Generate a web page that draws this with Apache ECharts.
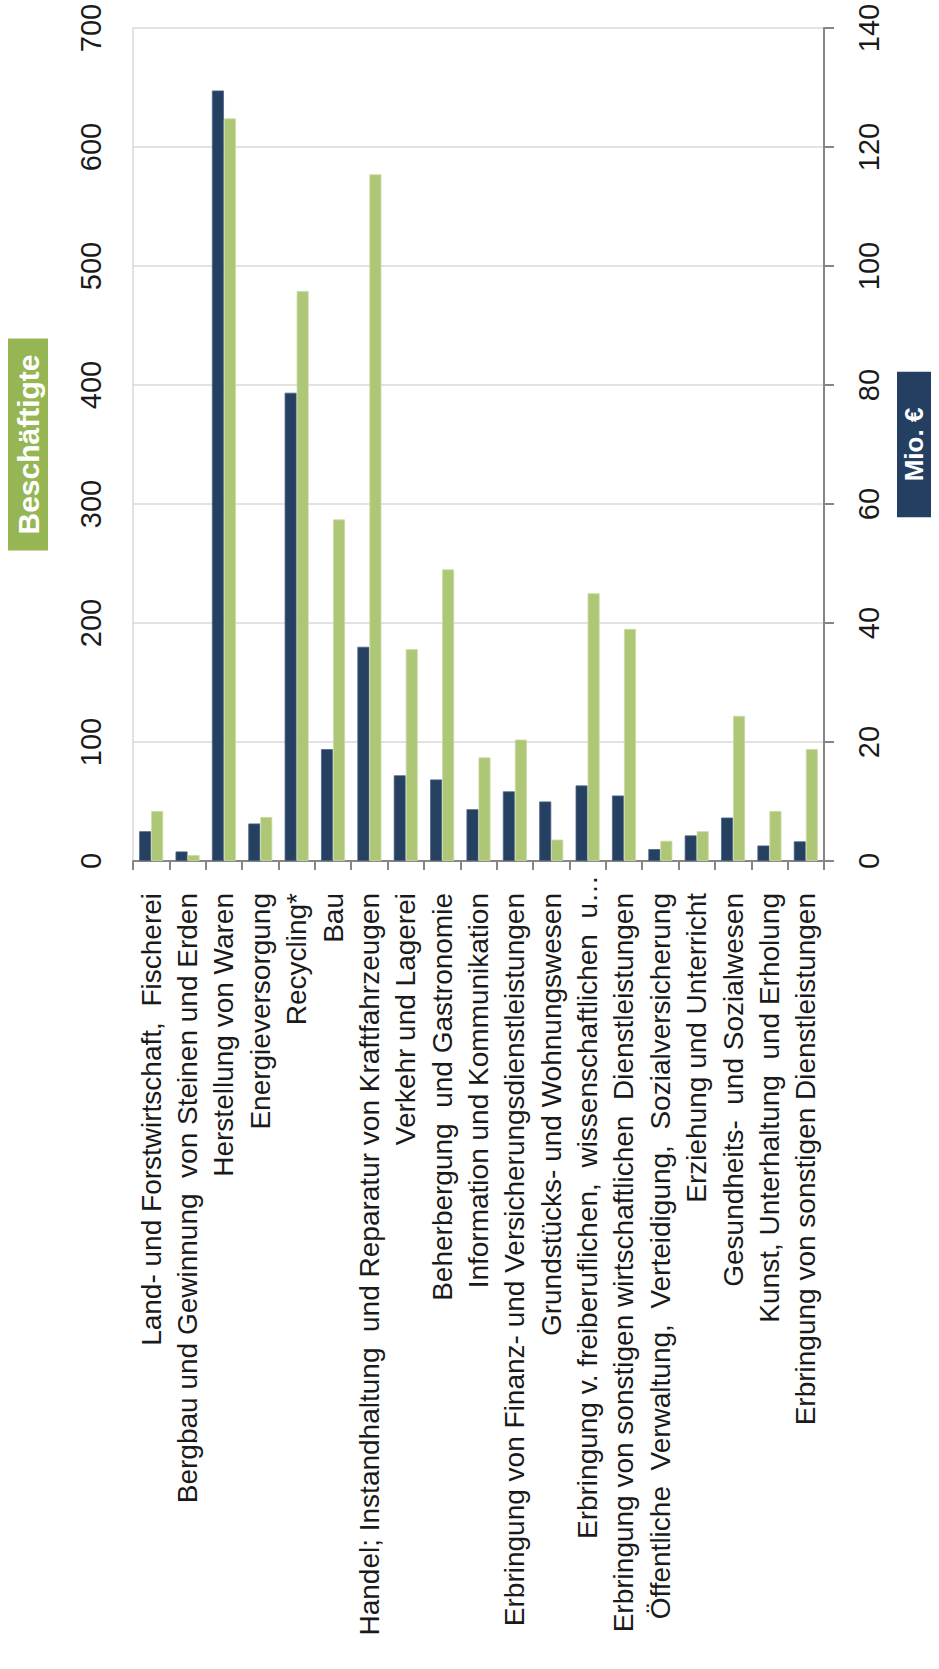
<!DOCTYPE html>
<html>
<head>
<meta charset="utf-8">
<title>Beschäftigte und Umsatz nach Wirtschaftszweigen</title>
<script src="https://cdn.jsdelivr.net/npm/echarts@6/dist/echarts.min.js"></script>
<style>
  html, body { margin: 0; padding: 0; background: #ffffff; }
  #chart { width: 939px; height: 1669px; }
</style>
</head>
<body>
<div id="chart"></div>
<script>
// Wirtschaftszweige (Reihenfolge von links nach rechts)
const categories = [
  'Land- und Forstwirtschaft,  Fischerei',
  'Bergbau und Gewinnung  von Steinen und Erden',
  'Herstellung von Waren',
  'Energieversorgung',
  'Recycling*',
  'Bau',
  'Handel; Instandhaltung  und Reparatur von Kraftfahrzeugen',
  'Verkehr und Lagerei',
  'Beherbergung  und Gastronomie',
  'Information und Kommunikation',
  'Erbringung von Finanz- und Versicherungsdienstleistungen',
  'Grundstücks- und Wohnungswesen',
  'Erbringung v. freiberuflichen,  wissenschaftlichen  u…',
  'Erbringung von sonstigen wirtschaftlichen  Dienstleistungen',
  'Öffentliche  Verwaltung,  Verteidigung,  Sozialversicherung',
  'Erziehung und Unterricht',
  'Gesundheits-  und Sozialwesen',
  'Kunst, Unterhaltung  und Erholung',
  'Erbringung von sonstigen Dienstleistungen'
];

// Umsatz in Mio. € (rechte Achse)
const umsatzMio = [5.0, 1.6, 129.5, 6.3, 78.7, 18.8, 36.0, 14.4, 13.7, 8.7,
                   11.7, 10.0, 12.7, 11.0, 2.0, 4.3, 7.3, 2.6, 3.3];

// Beschäftigte (linke Achse)
const beschaeftigte = [42, 5, 624, 37, 479, 287, 577, 178, 245, 87,
                       102, 18, 225, 195, 17, 25, 122, 42, 94];

// Achsenbereiche
const leftAxis = { min: 0, max: 700, interval: 100 };
const rightAxis = { min: 0, max: 140, interval: 20 };

const NAVY = '#264061';
const GREEN = '#aec776';
const GRID = '#d9d9d9';
const AXIS = '#868686';
const LABEL_FONT = "'Liberation Sans', Arial, sans-serif";
const NUM_FONT = "'Liberation Sans Narrow', 'Liberation Sans', Arial, sans-serif";

const chart = echarts.init(document.getElementById('chart'), null, { renderer: 'svg' });

chart.setOption({
  backgroundColor: '#ffffff',
  animation: false,
  grid: { left: 133, right: 111, top: 28, bottom: 808, containLabel: false },
  xAxis: {
    type: 'category',
    data: categories,
    boundaryGap: true,
    axisLine: { show: true, lineStyle: { color: AXIS, width: 2 } },
    axisTick: { show: true, interval: 0, length: 9, lineStyle: { color: AXIS, width: 2 } },
    axisLabel: {
      interval: 0,
      rotate: 90,
      margin: 14,
      color: '#1a1a1a',
      fontSize: 28,
      fontFamily: LABEL_FONT,
      formatter: function (v) {
        // abgekürzte Bezeichnung steht näher an der Achse
        return v.endsWith('…') ? '{t|' + v + '}' : '{p|' + v + '}';
      },
      rich: {
        p: { fontSize: 28, fontFamily: LABEL_FONT, color: '#1a1a1a', padding: [0, 18, 0, 0] },
        t: { fontSize: 28, fontFamily: LABEL_FONT, color: '#1a1a1a' }
      }
    }
  },
  yAxis: [
    {
      type: 'value',
      position: 'left',
      min: leftAxis.min,
      max: leftAxis.max,
      interval: leftAxis.interval,
      name: 'Beschäftigte',
      nameLocation: 'middle',
      nameGap: 85,
      nameTextStyle: {
        color: '#ffffff',
        fontWeight: 'bold',
        fontSize: 30,
        lineHeight: 30,
        fontFamily: LABEL_FONT,
        backgroundColor: '#95b653',
        padding: [5, 16, 5, 16]
      },
      axisLine: { show: true, lineStyle: { color: GRID, width: 1.5 } },
      axisTick: { show: false },
      splitLine: { show: true, lineStyle: { color: GRID, width: 1.5 } },
      axisLabel: {
        rotate: 90,
        margin: 28,
        color: '#1a1a1a',
        fontSize: 29,
        fontFamily: NUM_FONT
      }
    },
    {
      type: 'value',
      position: 'right',
      min: rightAxis.min,
      max: rightAxis.max,
      interval: rightAxis.interval,
      name: 'Mio. €',
      nameLocation: 'middle',
      nameGap: 73,
      nameTextStyle: {
        color: '#ffffff',
        fontWeight: 'bold',
        fontSize: 26,
        lineHeight: 24,
        fontFamily: LABEL_FONT,
        backgroundColor: '#243f61',
        padding: [5, 36, 5, 36]
      },
      axisLine: { show: true, lineStyle: { color: AXIS, width: 2 } },
      axisTick: { show: true, length: 10, lineStyle: { color: AXIS, width: 2 } },
      splitLine: { show: false },
      axisLabel: {
        rotate: 90,
        margin: 30,
        color: '#1a1a1a',
        fontSize: 29,
        fontFamily: NUM_FONT
      }
    }
  ],
  series: [
    {
      name: 'Mio. €',
      type: 'bar',
      yAxisIndex: 1,
      data: umsatzMio,
      barWidth: 12,
      barGap: '0%',
      itemStyle: { color: NAVY, borderColor: '#4a6488', borderWidth: 0.8 }
    },
    {
      name: 'Beschäftigte',
      type: 'bar',
      yAxisIndex: 0,
      data: beschaeftigte,
      barWidth: 12,
      barGap: '0%',
      itemStyle: { color: GREEN, borderColor: '#c9dba6', borderWidth: 0.8 }
    }
  ]
});
</script>
</body>
</html>
